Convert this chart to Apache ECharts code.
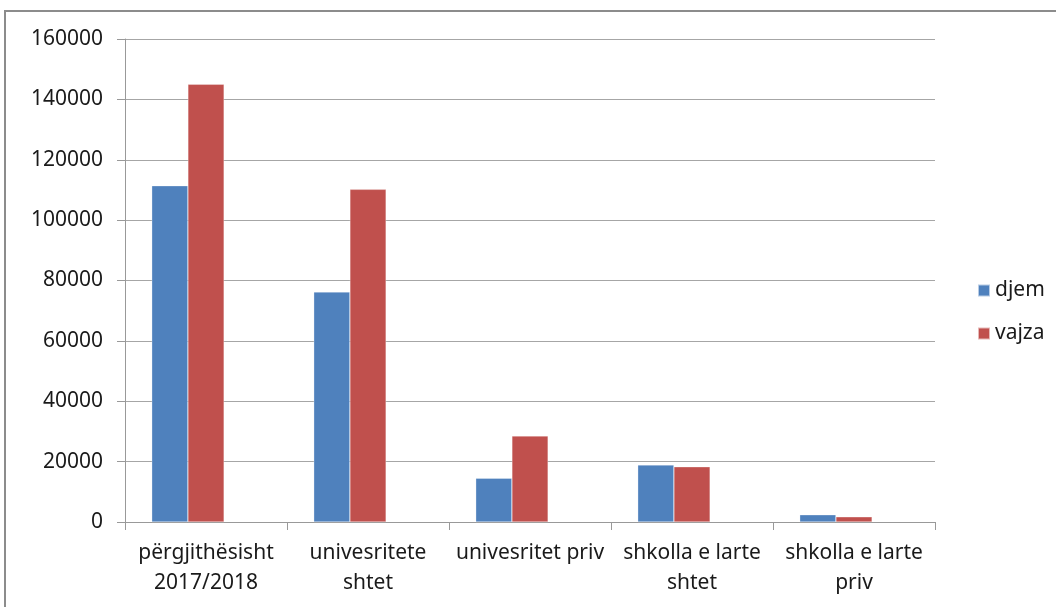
<!DOCTYPE html>
<html>
<head>
<meta charset="utf-8">
<script src="https://cdn.jsdelivr.net/npm/echarts@6/dist/echarts.min.js"></script>
<style>
  html, body { margin: 0; padding: 0; background: #fff; }
  #chart { width: 1056px; height: 607px; }
</style>
</head>
<body>
<div id="chart"></div>
<script>
// kategoritë dhe vlerat
const categories = [
  "përgjithësisht\n2017/2018",
  "univesritete\nshtet",
  "univesritet priv",
  "shkolla e larte\nshtet",
  "shkolla e larte\npriv"
];
const djem = [111400, 76200, 14500, 18900, 2400];
const vajza = [145000, 110200, 28500, 18300, 1700];
// seria e tretë bosh (si në Excel), zë vendin djathtas
const bosh = [null, null, null, null, null];
const yTicks = { min: 0, max: 160000, interval: 20000 };

const chart = echarts.init(document.getElementById("chart"));
const font = "'Noto Sans', sans-serif";

const option = {
  animation: false,
  color: ["#4F81BD", "#C0504D", "#9BBB59"],
  graphic: [
    {
      type: "rect",
      shape: { x: 5, y: 11, width: 1200, height: 800 },
      style: { fill: "none", stroke: "#8c8c8c", lineWidth: 2 },
      silent: true
    }
  ],
  grid: { left: 125, right: 121, top: 39, bottom: 85 },
  legend: {
    orient: "vertical",
    left: 972,
    top: 275,
    itemWidth: 12,
    itemHeight: 12,
    itemGap: 22,
    icon: "rect",
    textStyle: { fontFamily: font, fontSize: 21, color: "#1a1a1a" },
    data: ["djem", "vajza"]
  },
  xAxis: {
    type: "category",
    data: categories,
    axisLine: { lineStyle: { color: "#999", width: 1 } },
    axisTick: { show: true, length: 8, lineStyle: { color: "#999" } },
    axisLabel: {
      interval: 0,
      margin: 16,
      fontFamily: font,
      fontSize: 21,
      lineHeight: 30,
      color: "#1a1a1a"
    }
  },
  yAxis: {
    type: "value",
    min: yTicks.min,
    max: yTicks.max,
    interval: yTicks.interval,
    axisLine: { show: true, lineStyle: { color: "#999", width: 1 } },
    axisTick: { show: true, length: 8, lineStyle: { color: "#999" } },
    splitLine: { lineStyle: { color: "#a6a6a6", width: 1 } },
    axisLabel: {
      margin: 22,
      fontFamily: font,
      fontSize: 21,
      color: "#1a1a1a",
      formatter: (v) => String(v)
    }
  },
  series: [
    {
      name: "djem",
      type: "bar",
      data: djem,
      barGap: "0%",
      barCategoryGap: "33%",
      itemStyle: { borderColor: "rgba(255,255,255,0.6)", borderWidth: 0.5 }
    },
    {
      name: "vajza",
      type: "bar",
      data: vajza,
      barGap: "0%",
      barCategoryGap: "33%",
      itemStyle: { borderColor: "rgba(255,255,255,0.6)", borderWidth: 0.5 }
    },
    {
      name: "",
      type: "bar",
      data: bosh,
      barGap: "0%",
      barCategoryGap: "33%"
    }
  ]
};

chart.setOption(option);
</script>
</body>
</html>
